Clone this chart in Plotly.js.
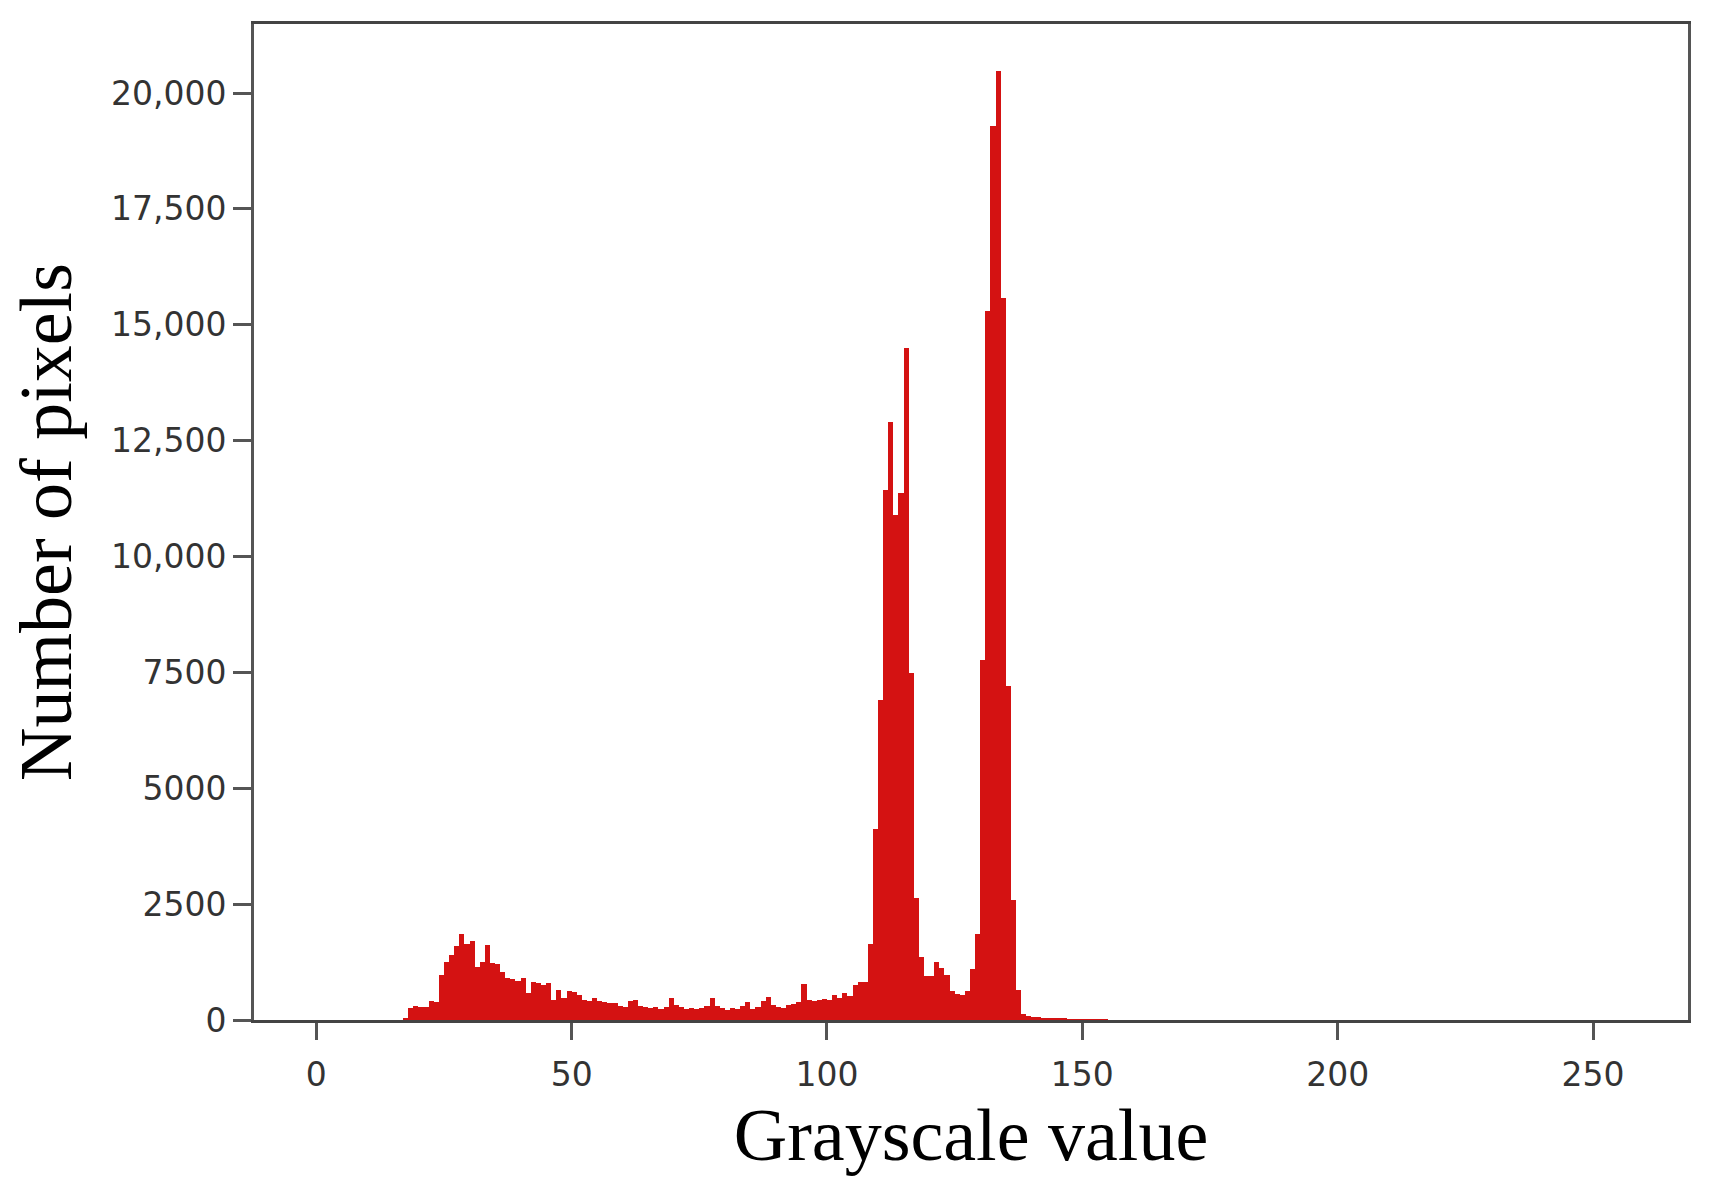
<!DOCTYPE html>
<html>
<head>
<meta charset="utf-8">
<script src="https://cdn.plot.ly/plotly-3.0.1.min.js"></script>
<style>
  html, body { margin: 0; padding: 0; background: #fff; }
  #hist { width: 1715px; height: 1181px; }
</style>
</head>
<body>
<div id="hist"></div>
<script>
// grayscale histogram, one bin per grey level starting at firstLevel
const firstLevel = 17;
const pixelCounts = [
  40, 250, 300, 290, 280, 420, 380, 980, 1250, 1400,          // 17-26
  1600, 1860, 1640, 1700, 1150, 1250, 1620, 1240, 1200, 1040, // 27-36
  900, 880, 850, 900, 580, 830, 800, 760, 790, 430,           // 37-46
  650, 480, 620, 600, 540, 440, 420, 480, 400, 390,           // 47-56
  360, 360, 300, 290, 420, 430, 300, 270, 250, 270,           // 57-66
  240, 280, 470, 330, 270, 240, 260, 230, 250, 300,           // 67-76
  480, 300, 250, 220, 250, 240, 300, 380, 240, 290,           // 77-86
  400, 500, 330, 280, 260, 320, 350, 380, 770, 430,           // 87-96
  420, 440, 450, 430, 550, 480, 580, 520, 750, 820,           // 97-106
  820, 1650, 4130, 6900, 11430, 12900, 10900, 11380, 14500, 7480, // 107-116
  2640, 1360, 950, 950, 1250, 1120, 980, 620, 560, 530,       // 117-126
  620, 1100, 1850, 7770, 15300, 19300, 20470, 15580, 7200, 2600, // 127-136
  640, 120, 90, 70, 60, 50, 45, 40, 40, 35,                   // 137-146
  30, 30, 25, 25, 20, 18, 15, 12, 10, 10,                     // 147-156
  8, 8, 6, 6, 5, 5, 5, 4, 4, 4                                // 157-166
];
const greyLevels = pixelCounts.map((_, i) => firstLevel + i);

const yTicks = [0, 2500, 5000, 7500, 10000, 12500, 15000, 17500, 20000];
const xTicks = [0, 50, 100, 150, 200, 250];

const tickFont = { family: "DejaVu Sans, sans-serif", size: 33, color: "#333" };
const titleFont = { family: "Liberation Serif, Times New Roman, serif", size: 74, color: "#000" };

Plotly.newPlot(
  "hist",
  [
    {
      type: "bar",
      x: greyLevels,
      y: pixelCounts,
      width: 1,
      offset: 0,
      marker: { color: "#d41212", line: { width: 0 } },
      hoverinfo: "x+y",
    },
  ],
  {
    width: 1715,
    height: 1181,
    margin: { l: 254, r: 27, t: 24, b: 161 },
    paper_bgcolor: "#fff",
    plot_bgcolor: "#fff",
    showlegend: false,
    bargap: 0,
    xaxis: {
      range: [-12.2, 268.6],
      tickvals: xTicks,
      ticks: "outside",
      ticklen: 17,
      tickwidth: 3,
      tickcolor: "#555",
      ticklabelstandoff: 6,
      tickfont: tickFont,
      showgrid: false,
      zeroline: false,
      showline: true,
      linecolor: "#444",
      linewidth: 3,
      mirror: true,
      title: { text: "Grayscale value", font: titleFont, standoff: 0 },
    },
    yaxis: {
      range: [0, 21490],
      tickvals: yTicks,
      exponentformat: "none",
      ticks: "outside",
      ticklen: 18,
      tickwidth: 3,
      tickcolor: "#555",
      tickfont: tickFont,
      showgrid: false,
      zeroline: false,
      showline: true,
      linecolor: "#555",
      linewidth: 3,
      mirror: true,
      title: { text: "Number of pixels", font: titleFont, standoff: 16 },
    },
  },
  { displayModeBar: false, staticPlot: true }
);
</script>
</body>
</html>
